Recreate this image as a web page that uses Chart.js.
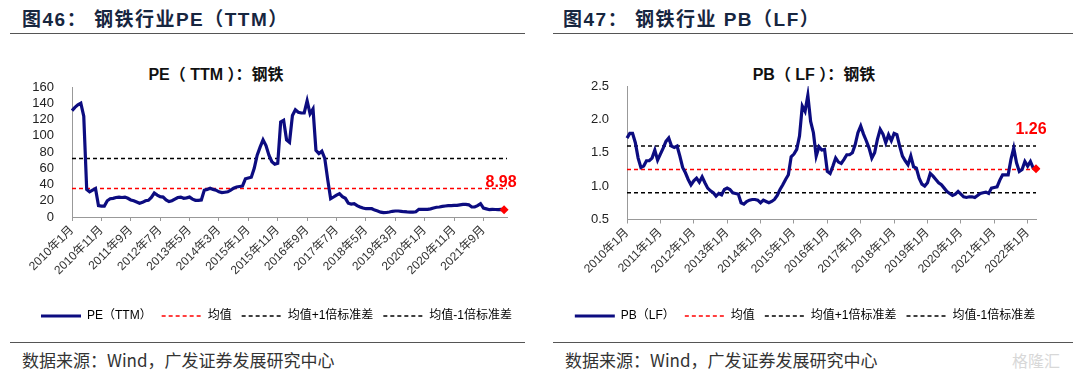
<!DOCTYPE html>
<html>
<head>
<meta charset="utf-8">
<script src="https://cdn.jsdelivr.net/npm/chart.js@4"></script>
<style>
  body{margin:0;width:1080px;height:378px;background:#fff;position:relative;overflow:hidden;font-family:"Liberation Sans","Noto Sans CJK SC",sans-serif}
  .hd{position:absolute;top:4px;font-size:19px;font-weight:bold;color:#17263f;white-space:nowrap;letter-spacing:1.5px}
  .rule{position:absolute;height:0;border-top:1px solid #555}
  .src{position:absolute;top:347px;font-size:17px;color:#333;white-space:nowrap;font-family:"Noto Sans CJK SC",sans-serif}
  .ttl{position:absolute;top:61px;font-size:16px;font-weight:bold;color:#111;transform:translateX(-50%);white-space:nowrap}
  .wm{position:absolute;left:1012px;top:348px;font-size:16px;color:#d8d8d8;font-family:"Noto Sans CJK SC",sans-serif}
  canvas{position:absolute;top:0}
</style>
</head>
<body>
<div class="hd" style="left:22px">图46：&nbsp;钢铁行业PE（TTM）</div>
<div class="rule" style="left:10px;width:515px;top:33px"></div>
<div class="hd" style="left:563px">图47：&nbsp;钢铁行业 PB（LF）</div>
<div class="rule" style="left:553px;width:520px;top:33px"></div>

<div class="ttl" style="left:216px">PE（ TTM ）：钢铁</div>
<div class="ttl" style="left:814px">PB（ LF ）：钢铁</div>

<div class="rule" style="left:10px;width:515px;top:342px"></div>
<div class="rule" style="left:553px;width:520px;top:342px"></div>
<div class="src" style="left:22px">数据来源：Wind，广发证券发展研究中心</div>
<div class="src" style="left:565px">数据来源：Wind，广发证券发展研究中心</div>
<div class="wm">格隆汇</div>

<canvas id="pe" width="540" height="378" style="left:0"></canvas>
<canvas id="pb" width="540" height="378" style="left:540px"></canvas>

<script>
// 月度数据 2010年1月 - 2022年4月
var startYear = 2010, nMonths = 148;

var peValues = [131,135,138,140,124,34,31,33,35,14,
  13.5,13.5,20,22.5,23,24,24.5,24,24.5,23,
  21,20,18.5,17,18,20,20.5,24,29.5,27,
  25,24.5,21,19,20,22,24,24.5,23,23.5,
  24.5,22,20.5,20.5,21,33,34,35.5,34,33,
  31,30,30.5,31,33,35.5,37,37.5,38,47,
  48,49,60,76,86,95,88,76,68,65,
  66,117,119,95,92,125,132,129,128,128,
  143,127,133,82,78,81,72,46,22.5,24.6,
  27,28.7,25,23,17,16,16.5,14,12.3,11,
  10.2,10.3,10.2,8.5,7.4,6,5.3,5.5,6.1,7,
  7.4,7.4,7,6.5,6.2,6.1,6.1,6.5,9.4,9.4,
  9.4,9.4,10,11,12,12.3,13,13.5,14,14,
  14.3,14.3,15,15.6,15.6,15,12.3,12.3,14,16.4,
  11,10,9,9.4,9.2,9,9.4,8.98];

var pbValues = [1.72,1.79,1.79,1.65,1.42,1.28,1.30,1.38,1.38,1.42,
  1.54,1.39,1.48,1.57,1.67,1.72,1.60,1.58,1.60,1.45,
  1.28,1.20,1.10,1.02,1.08,1.12,1.06,1.14,1.05,0.97,
  0.93,0.90,0.85,0.89,0.87,0.95,0.97,0.95,0.90,0.89,
  0.88,0.75,0.73,0.77,0.79,0.80,0.80,0.79,0.75,0.79,
  0.77,0.75,0.77,0.80,0.86,0.95,1.02,1.10,1.17,1.44,
  1.48,1.55,1.75,2.20,2.12,2.36,1.97,1.80,1.45,1.59,
  1.54,1.55,1.22,1.19,1.30,1.42,1.36,1.34,1.40,1.47,
  1.47,1.50,1.62,1.80,1.90,1.78,1.68,1.57,1.42,1.50,
  1.70,1.85,1.78,1.65,1.77,1.68,1.79,1.77,1.60,1.45,
  1.38,1.32,1.45,1.29,1.27,1.12,1.03,1.00,1.05,1.19,
  1.15,1.10,1.05,1.02,0.97,0.92,0.89,0.86,0.88,0.92,
  0.88,0.84,0.83,0.84,0.84,0.83,0.86,0.89,0.90,0.91,
  0.89,0.97,0.98,0.99,1.09,1.17,1.17,1.17,1.40,1.57,
  1.35,1.22,1.25,1.37,1.30,1.37,1.27,1.26];

// 均值及±1倍标准差
var peMean = 35, peUp = 72, peDown = -2;
var pbMean = 1.25, pbUp = 1.60, pbDown = 0.90;

var peTicks = ['2010年1月','2010年11月','2011年9月','2012年7月','2013年5月','2014年3月','2015年1月',
  '2015年11月','2016年9月','2017年7月','2018年5月','2019年3月','2020年1月','2020年11月','2021年9月'];
var pbTicks = ['2010年1月','2011年1月','2012年1月','2013年1月','2014年1月','2015年1月','2016年1月',
  '2017年1月','2018年1月','2019年1月','2020年1月','2021年1月','2022年1月'];

var months = [];
for (var i = 0; i < nMonths; i++) {
  months.push((startYear + Math.floor(i / 12)) + '年' + (i % 12 + 1) + '月');
}

function flat(v, n){ var a = []; for (var k = 0; k < n; k++) a.push(v); return a; }

var FONT = '"Liberation Sans","Noto Sans CJK SC",sans-serif';

// 最新值标注
var lastLabel = {
  id: 'lastLabel',
  afterDatasetsDraw: function(chart, args, opts){
    var meta = chart.getDatasetMeta(0);
    var pt = meta.data[opts.index];
    var c = chart.ctx;
    c.save();
    c.font = 'bold 16px ' + FONT;
    c.fillStyle = '#ff0000';
    c.textAlign = 'center';
    c.textBaseline = 'middle';
    c.fillText(opts.text, pt.x + opts.dx, pt.y + opts.dy);
    c.restore();
  }
};

// 图例整体右移
var shiftLegend = {
  id: 'shiftLegend',
  afterLayout: function(chart, args, opts){
    chart.legend.left += opts.dx;
    chart.legend.right += opts.dx;
  }
};

// 图例用线段样式（虚线/实线）
function legendLabels(chart){
  return chart.data.datasets.map(function(ds, i){
    return { text: ds.label, datasetIndex: i, hidden: false,
      strokeStyle: ds.borderColor, fillStyle: ds.borderColor,
      lineWidth: ds.borderWidth, lineDash: ds.borderDash || [], pointStyle: 'line' };
  });
}

function makeChart(id, cfg){
  var n = cfg.labels.length;
  var last = cfg.values.length - 1;
  var ticks = cfg.ticks;
  new Chart(document.getElementById(id), {
    type: 'line',
    data: {
      labels: cfg.labels,
      datasets: [
        { label: cfg.name, data: cfg.values, borderColor: '#0c0c80', borderWidth: 3.2, tension: 0,
          pointStyle: 'rectRot', backgroundColor: '#ff0000',
          pointRadius: function(c){ return c.dataIndex === last ? 4.5 : 0; },
          pointBackgroundColor: '#ff0000', pointBorderColor: '#ff0000', pointBorderWidth: 0 },
        { label: '均值', data: flat(cfg.mean, n), borderColor: '#ff0000', borderWidth: 1.5, borderDash: [4,3], pointRadius: 0 },
        { label: '均值+1倍标准差', data: flat(cfg.up, n), borderColor: '#000', borderWidth: 1.5, borderDash: [4,3], pointRadius: 0 },
        { label: '均值-1倍标准差', data: flat(cfg.down, n), borderColor: '#000', borderWidth: 1.5, borderDash: [4,3], pointRadius: 0, clip: 0 }
      ]
    },
    options: {
      responsive: false,
      animation: false,
      layout: { padding: cfg.padding },
      plugins: {
        title: { display: false },
        tooltip: { enabled: false },
        legend: {
          position: 'bottom',
          labels: { usePointStyle: true, pointStyle: 'line', pointStyleWidth: 40, padding: 10,
            color: '#333', font: { size: 12, family: FONT }, generateLabels: legendLabels }
        },
        lastLabel: cfg.lastLabel,
        shiftLegend: { dx: cfg.legendDx }
      },
      scales: {
        x: {
          type: 'category',
          offset: false,
          afterFit: function(s){ s.height = cfg.xHeight; },
          border: { display: true, color: '#999', width: 1 },
          grid: { display: true, drawOnChartArea: false, drawTicks: true, tickLength: 4,
            tickColor: function(c){ return (c.tick && c.tick.label) ? '#999' : 'rgba(0,0,0,0)'; } },
          ticks: {
            autoSkip: false, maxRotation: 45, minRotation: 45, padding: 2,
            color: '#333', font: { size: 12, family: FONT },
            callback: function(v){ var l = this.getLabelForValue(v); return ticks.indexOf(l) >= 0 ? l : ''; }
          }
        },
        y: {
          min: cfg.min, max: cfg.max,
          afterFit: function(s){ s.width = cfg.yWidth; },
          border: { display: true, color: '#999', width: 1 },
          grid: { display: false },
          ticks: { stepSize: cfg.step, autoSkip: false, padding: 10, color: '#222', font: { size: 13, family: FONT },
            callback: cfg.fmt }
        }
      }
    },
    plugins: [lastLabel, shiftLegend]
  });
}

makeChart('pe', {
  name: 'PE（TTM）',
  labels: months.concat(['']),
  values: peValues,
  mean: peMean, up: peUp, down: peDown,
  ticks: peTicks,
  min: 0, max: 160, step: 20,
  fmt: function(v){ return v; },
  padding: { top: 87, left: 0, right: 33, bottom: 46 },
  yWidth: 72, xHeight: 83, legendDx: 23,
  lastLabel: { index: peValues.length - 1, text: peValues[peValues.length - 1].toFixed(2), dx: -3, dy: -27 }
});

makeChart('pb', {
  name: 'PB（LF）',
  labels: months,
  values: pbValues,
  mean: pbMean, up: pbUp, down: pbDown,
  ticks: pbTicks,
  min: 0.5, max: 2.5, step: 0.5,
  fmt: function(v){ return v.toFixed(1); },
  padding: { top: 86, left: 0, right: 44, bottom: 46 },
  yWidth: 87, xHeight: 80.5, legendDx: 17,
  lastLabel: { index: pbValues.length - 1, text: pbValues[pbValues.length - 1].toFixed(2), dx: -5, dy: -39 }
});
</script>
</body>
</html>
